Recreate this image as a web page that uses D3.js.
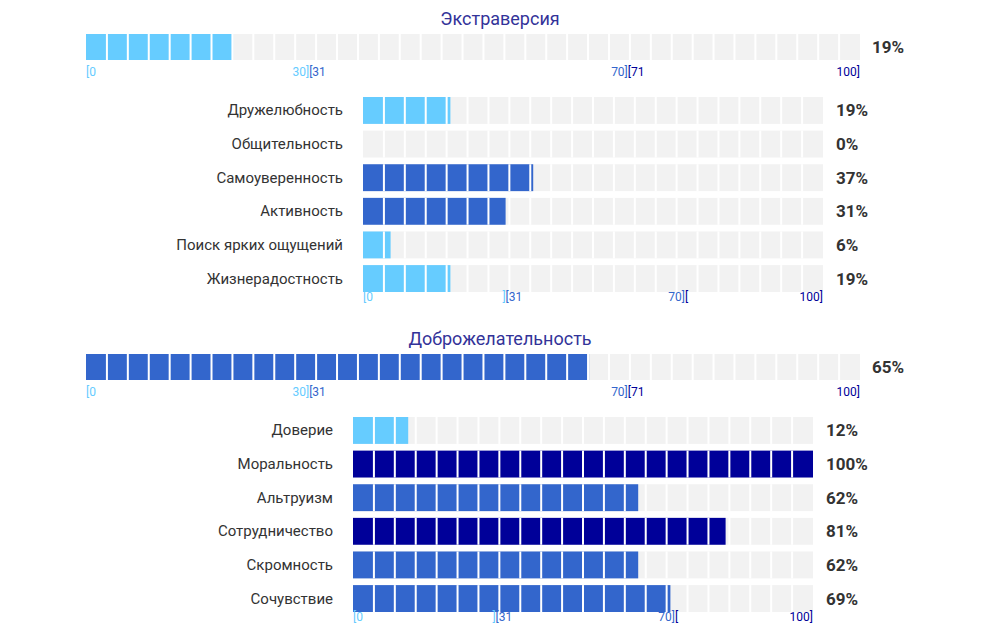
<!DOCTYPE html><html><head><meta charset="utf-8">
<script src="https://cdn.jsdelivr.net/npm/d3@7"></script>
<style>body{margin:0;background:#fff;font-family:Roboto,sans-serif}</style></head><body>
<svg id="c" width="1000" height="642"></svg>
<script>
const titles=["Экстраверсия","Доброжелательность"];
const totals=[19,65];
const facets1=["Дружелюбность","Общительность","Самоуверенность","Активность","Поиск ярких ощущений","Жизнерадостность"];
const values1=[19,0,37,31,6,19];
const facets2=["Доверие","Моральность","Альтруизм","Сотрудничество","Скромность","Сочувствие"];
const values2=[12,100,62,81,62,69];
const svg=d3.select("#c");
const col=v=>v<=30?"#66ccff":v<=70?"#3366cc":"#000099";
const C1="#66ccff",C2="#3366cc",C3="#000099";
function bar(g,x,y,h,v,n){
  g.append("rect").attr("x",x(0)).attr("y",y).attr("width",x(100)-x(0)).attr("height",h).attr("fill","#f2f2f2");
  g.append("rect").attr("x",x(0)).attr("y",y).attr("width",x(v)-x(0)).attr("height",h).attr("fill",col(v));
  const w=(x(100)-x(0))/n;
  for(let i=1;i<n;i++)g.append("rect").attr("x",x(0)+i*w-1).attr("y",y).attr("width",2).attr("height",h).attr("fill","#fff");
}
function txt(g,x,y,s,c,a){g.append("text").attr("x",x).attr("y",y).attr("fill",c).attr("font-size",12).attr("text-anchor",a||"start").text(s);}
function block(top,ti,total,facets,vals,x0,lab){
  const g=svg.append("g");
  g.append("text").attr("x",500).attr("y",top+25).attr("text-anchor","middle").attr("font-size",18).attr("fill","#333399").text(titles[ti]);
  const X=d3.scaleLinear().domain([0,100]).range([86,860]);
  bar(g,X,top+34,26,total,37);
  g.append("text").attr("x",872).attr("y",top+53).attr("font-size",17).attr("font-weight","bold").attr("fill","#333").text(total+"%");
  const ty=top+76;
  txt(g,X(0),ty,"[0",C1);txt(g,X(30)-9,ty,"30]",C1,"end");txt(g,X(30)-9,ty,"[31",C2);
  txt(g,X(70),ty,"70]",C2,"end");txt(g,X(70),ty,"[71",C3);txt(g,X(100),ty,"100]",C3,"end");
  const x=d3.scaleLinear().domain([0,100]).range([x0,x0+460]);
  const y=d3.scaleBand().domain(facets).range([top+97,top+292]).paddingInner(0.2);
  facets.forEach((f,i)=>{
    const yy=y(f);
    bar(g,x,yy,y.bandwidth(),vals[i],22);
    g.append("text").attr("x",lab).attr("y",yy+y.bandwidth()/2+5).attr("text-anchor","end").attr("font-size",15).attr("fill","#333").text(f);
    g.append("text").attr("x",x(100)+13).attr("y",yy+y.bandwidth()/2+6).attr("font-size",17).attr("font-weight","bold").attr("fill","#333").text(vals[i]+"%");
  });
  const ly=top+301;
  txt(g,x(0),ly,"[0",C1);txt(g,x(31),ly,"]",C1,"end");txt(g,x(31),ly,"[31",C2);
  txt(g,x(70),ly,"70]",C2,"end");txt(g,x(70),ly,"[",C3);txt(g,x(100),ly,"100]",C3,"end");
}
block(0,0,totals[0],facets1,values1,363,343);
block(320,1,totals[1],facets2,values2,353,333);
</script></body></html>
